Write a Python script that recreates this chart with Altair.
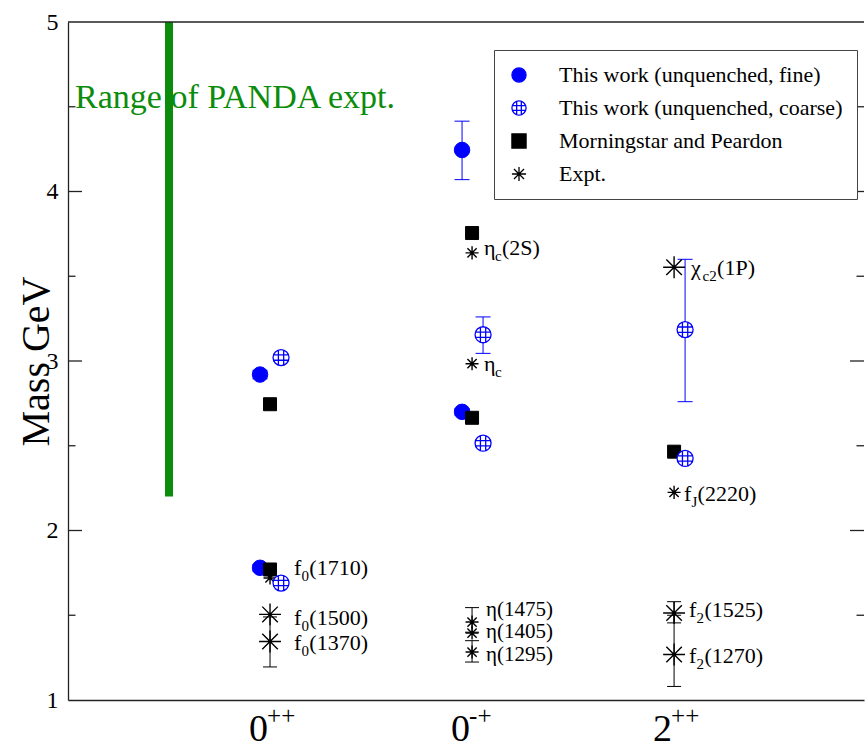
import json
import altair as alt
import pandas as pd

# ---------------- data ----------------
# x categories (J^PC); positions 1..3 on a numeric axis
jpc_codes = ["0++", "0-+", "2++"]
jpc_base = ["0", "0", "2"]
jpc_sup = ["++", "-+", "++"]

# This work (unquenched, fine)
fine_jpc = ["0++", "0++", "0-+", "0-+"]
fine_mass = [2.92, 1.78, 4.245, 2.70]
fine_lo = [2.895, 1.76, 4.07, 2.68]
fine_hi = [2.945, 1.80, 4.415, 2.72]

# This work (unquenched, coarse)
coarse_jpc = ["0++", "0++", "0-+", "0-+", "2++", "2++"]
coarse_mass = [3.02, 1.69, 3.155, 2.515, 3.185, 2.425]
coarse_lo = [3.00, 1.67, 3.045, 2.495, 2.76, 2.405]
coarse_hi = [3.04, 1.71, 3.26, 2.535, 3.60, 2.445]

# Morningstar and Peardon
mp_jpc = ["0++", "0++", "0-+", "0-+", "2++"]
mp_mass = [2.745, 1.77, 3.755, 2.665, 2.465]

# Experiment
expt_jpc = ["0++", "0++", "0++", "0-+", "0-+", "0-+", "0-+", "0-+", "2++", "2++", "2++", "2++"]
expt_mass = [1.72, 1.505, 1.345, 3.638, 2.984, 1.46, 1.395, 1.283, 3.553, 2.225, 1.513, 1.268]
expt_lo = [None, None, 1.195, None, None, 1.40, None, 1.224, None, None, 1.455, 1.08]
expt_hi = [None, None, 1.49, None, None, 1.545, None, 1.35, None, None, 1.58, 1.50]
expt_sym = ["f", "f", "f", "η", "η", "η", "η", "η", "χ", "f", "f", "f"]
expt_sub = ["0", "0", "0", "c", "c", "", "", "", "c2", "J", "2", "2"]
expt_tail = ["(1710)", "(1500)", "(1370)", "(2S)", "", "(1475)", "(1405)", "(1295)", "(1P)", "(2220)", "(1525)", "(1270)"]
expt_label_mass = [1.78, 1.485, 1.335, 3.667, 2.984, 1.532, 1.40, 1.265, 3.55, 2.215, 1.531, 1.26]
big_star_names = ["f0(1500)", "f0(1370)", "χc2(1P)", "f2(1525)", "f2(1270)"]

# PANDA range
panda_x = [0.5]
panda_lo = [2.2]
panda_hi = [5.0]
panda_text = ["Range of PANDA expt."]
panda_text_x = [0.035]
panda_text_y = [4.55]

# axis ticks
y_major = [2, 3, 4]
y_minor = [1.5, 2.5, 3.5, 4.5]

SERIES = ["This work (unquenched, fine)", "This work (unquenched, coarse)",
          "Morningstar and Peardon", "Expt."]

# ---------------- styles ----------------
FONT = "Liberation Serif"
BLUE = "#0000ff"
GREEN = "#0c8c0c"
XMAX = 3.94
W, H = 796, 678

COARSE_PATH = ("M -1 0 A 1 1 0 1 1 1 0 A 1 1 0 1 1 -1 0 Z "
               "M -0.33 -0.94 L -0.33 0.94 M 0.33 -0.94 L 0.33 0.94 "
               "M -0.94 -0.33 L 0.94 -0.33 M -0.94 0.33 L 0.94 0.33")
STAR_PATH = ("M -1 0 L 1 0 M 0 -1 L 0 1 M -0.71 -0.71 L 0.71 0.71 "
             "M -0.71 0.71 L 0.71 -0.71")
CAP_PATH = "M -1 0 L 1 0"
TICK_R = "M 0 0 L 1 0"
TICK_L = "M 0 0 L -1 0"

pos = {c: i + 1 for i, c in enumerate(jpc_codes)}

xscale = alt.Scale(domain=[0, XMAX], nice=False, zero=False)
yscale = alt.Scale(domain=[1, 5], nice=False, zero=False)

label_expr = json.dumps(jpc_base) + "[datum.value - 1]"
xaxis = alt.Axis(values=[1, 2, 3], labelExpr=label_expr, ticks=False, grid=False,
                 domain=True, domainColor="#222222", domainWidth=1.3,
                 labelFont=FONT, labelFontSize=38, labelColor="black",
                 labelPadding=10, labelBaseline="top", labelOffset=-12,
                 labelFlush=False, title=None)
yaxis = alt.Axis(values=[1, 2, 3, 4, 5], ticks=False, grid=False,
                 domain=True, domainColor="#222222", domainWidth=1.3,
                 labelFont=FONT, labelFontSize=24, labelColor="black",
                 labelPadding=10, labelFlush=False,
                 title="Mass GeV", titleFont=FONT, titleFontSize=40,
                 titleFontWeight="normal", titleColor="black",
                 titleX=-20, titleY=339, titleAngle=270, titleAlign="center",
                 titleBaseline="alphabetic")


def X(f):
    return alt.X(f, type="quantitative", scale=xscale, axis=xaxis)


def Y(f):
    return alt.Y(f, type="quantitative", scale=yscale, axis=yaxis)


def Y2(f):
    return alt.Y2(f)


LEG = alt.Legend(title=None, orient="none", legendX=426, legendY=28)
shape_enc = alt.Shape("series:N", scale=alt.Scale(domain=SERIES, range=["circle", COARSE_PATH, "square", STAR_PATH]), legend=LEG)
fill_enc = alt.Fill("series:N", scale=alt.Scale(domain=SERIES, range=[BLUE, "white", "black", "transparent"]), legend=LEG)
stroke_enc = alt.Stroke("series:N", scale=alt.Scale(domain=SERIES, range=[BLUE, BLUE, "black", "black"]), legend=LEG)


def make_df(series, jpc, mass, lo=None, hi=None):
    d = {"series": [series] * len(jpc), "x": [pos[j] for j in jpc], "mass": mass}
    if lo is not None:
        d["lo"] = lo
        d["hi"] = hi
    return pd.DataFrame(d)


df_fine = make_df(SERIES[0], fine_jpc, fine_mass, fine_lo, fine_hi)
df_coarse = make_df(SERIES[1], coarse_jpc, coarse_mass, coarse_lo, coarse_hi)
df_mp = make_df(SERIES[2], mp_jpc, mp_mass)
df_expt = make_df(SERIES[3], expt_jpc, expt_mass, expt_lo, expt_hi)
df_expt["name"] = [a + b + c for a, b, c in zip(expt_sym, expt_sub, expt_tail)]
df_expt["sym"] = expt_sym
df_expt["sub"] = expt_sub
df_expt["tail"] = expt_tail
df_expt["label_mass"] = expt_label_mass

layers = []

# PANDA range bar
df_panda = pd.DataFrame({"x": panda_x, "lo": panda_lo, "hi": panda_hi})
layers.append(alt.Chart(df_panda).mark_rule(strokeWidth=8, color=GREEN).encode(
    x=X("x"), y=Y("lo"), y2=Y2("hi")))

# top frame line
df_top = pd.DataFrame({"x0": [0], "x1": [XMAX], "y": [5]})
layers.append(alt.Chart(df_top).mark_rule(strokeWidth=1.3, color="#222222").encode(
    x=X("x0"), x2=alt.X2("x1"), y=Y("y")))

# inward ticks (left and right)
for vals, size in [(y_major, 196), (y_minor, 56)]:
    dl = pd.DataFrame({"x": [0] * len(vals), "y": vals})
    dr = pd.DataFrame({"x": [XMAX] * len(vals), "y": vals})
    layers.append(alt.Chart(dl).mark_point(shape=TICK_R, size=size * 4, stroke="#222222",
                                           strokeWidth=1.3, opacity=1).encode(x=X("x"), y=Y("y")))
    layers.append(alt.Chart(dr).mark_point(shape=TICK_L, size=size * 4, stroke="#222222",
                                           strokeWidth=1.3, opacity=1).encode(x=X("x"), y=Y("y")))

# error bars
for df, off, col, cap in [(df_fine, -10, BLUE, 225), (df_coarse, 11, BLUE, 225),
                          (df_expt, 0, "black", 196)]:
    de = df.dropna(subset=["lo"])
    base = alt.Chart(de)
    layers.append(base.mark_rule(xOffset=off, color=col, strokeWidth=1).encode(
        x=X("x"), y=Y("lo"), y2=Y2("hi")))
    for f in ["lo", "hi"]:
        layers.append(base.mark_point(xOffset=off, shape=CAP_PATH, size=cap, stroke=col,
                                      strokeWidth=1, opacity=1).encode(x=X("x"), y=Y(f)))

# points: fine, MP, expt, coarse (drawing order)
layers.append(alt.Chart(df_fine).mark_point(xOffset=-10, size=240, strokeWidth=1, opacity=1).encode(
    x=X("x"), y=Y("mass"), shape=shape_enc, fill=fill_enc, stroke=stroke_enc))
layers.append(alt.Chart(df_mp).mark_point(xOffset=0, size=169, strokeWidth=1, opacity=1).encode(
    x=X("x"), y=Y("mass"), shape=shape_enc, fill=fill_enc, stroke=stroke_enc))
layers.append(alt.Chart(df_expt).mark_point(xOffset=0, strokeWidth=1.4, opacity=1).encode(
    x=X("x"), y=Y("mass"), shape=shape_enc, fill=fill_enc, stroke=stroke_enc,
    size=alt.condition(alt.FieldOneOfPredicate(field="name", oneOf=big_star_names),
                       alt.value(480), alt.value(170))))
layers.append(alt.Chart(df_coarse).mark_point(xOffset=11, size=256, strokeWidth=1.3, opacity=1).encode(
    x=X("x"), y=Y("mass"), shape=shape_enc, fill=fill_enc, stroke=stroke_enc))

# expt labels (base symbol, subscript, rest)
group_dx = {("f", "0"): 24, ("η", "c"): 12, ("η", ""): 14, ("χ", "c2"): 17,
            ("f", "J"): 10, ("f", "2"): 15}
base_w = {"f": 7.5, "η": 11.0, "χ": 11.5}
sub_w = {"0": 7.8, "2": 7.8, "c": 6.9, "J": 6.0, "c2": 14.5, "": 0.0}
for (sym, sub), d0 in group_dx.items():
    fs = 21 if (sym, sub) == ("η", "") else 22
    b = alt.Chart(df_expt).transform_filter(f"datum.sym == '{sym}' && datum.sub == '{sub}'")
    layers.append(b.mark_text(align="left", baseline="middle", dx=d0, font=FONT, fontSize=fs,
                              color="black").encode(x=X("x"), y=Y("label_mass"), text="sym:N"))
    if sub:
        layers.append(b.mark_text(align="left", baseline="middle", dx=d0 + base_w[sym], dy=8,
                                  font=FONT, fontSize=15, color="black").encode(
            x=X("x"), y=Y("label_mass"), text="sub:N"))
    layers.append(b.mark_text(align="left", baseline="middle", dx=d0 + base_w[sym] + sub_w[sub],
                              font=FONT, fontSize=fs, color="black").encode(
        x=X("x"), y=Y("label_mass"), text="tail:N"))

# PANDA text
df_pt = pd.DataFrame({"x": panda_text_x, "y": panda_text_y, "t": panda_text})
layers.append(alt.Chart(df_pt).mark_text(align="left", baseline="middle", font=FONT, fontSize=34,
                                         color=GREEN).encode(x=X("x"), y=Y("y"), text="t:N"))

# superscripts of the x tick labels
df_sup = pd.DataFrame({"x": [pos[c] for c in jpc_codes], "y": [1] * 3, "s": jpc_sup})
layers.append(alt.Chart(df_sup).mark_text(align="left", baseline="top", dx=-3, dy=4, font=FONT,
                                          fontSize=25, color="black").encode(
    x=X("x"), y=Y("y"), text="s:N"))

chart = alt.layer(*layers).properties(
    width=W, height=H,
    autosize=alt.AutoSizeParams(type="none"),
    padding={"left": 68, "top": 22, "right": 1, "bottom": 52},
    background="white",
).configure_view(stroke=None).configure_legend(
    padding=14, strokeColor="#444444", fillColor="white", cornerRadius=0,
    labelFont=FONT, labelFontSize=22, labelColor="black", labelOffset=29,
    rowPadding=11, symbolSize=200, symbolStrokeWidth=1.3, labelLimit=400,
)

chart.save("out.html", embed_options={"renderer": "svg", "actions": False})
